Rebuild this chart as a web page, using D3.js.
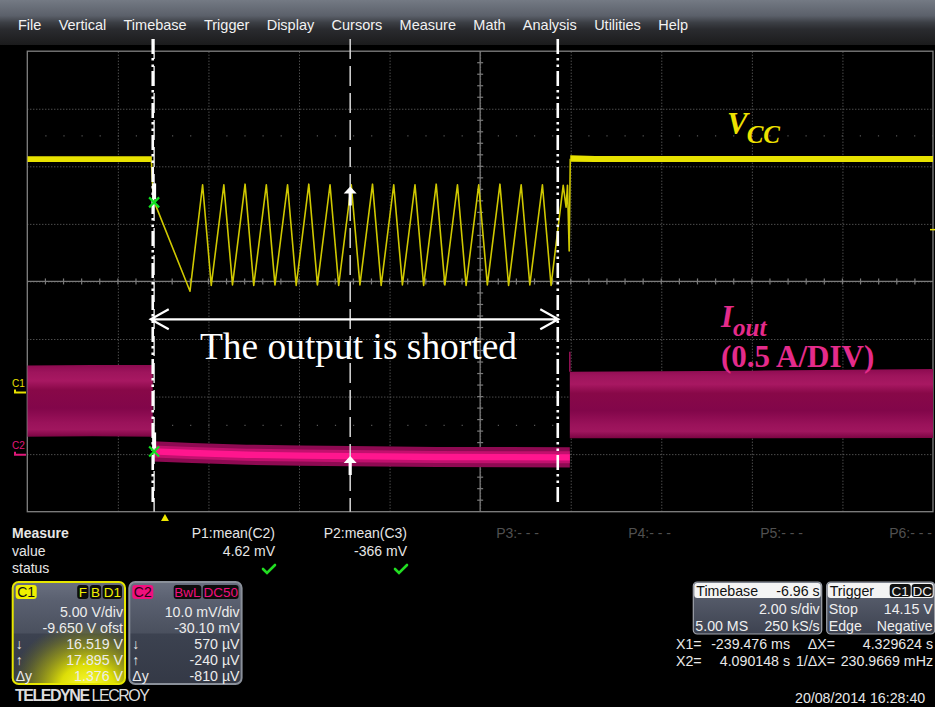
<!DOCTYPE html>
<html>
<head>
<meta charset="utf-8">
<script src="https://cdn.jsdelivr.net/npm/d3@7"></script>
<style>
html, body { margin: 0; padding: 0; background: #000; }
svg { display: block; }
</style>
</head>
<body>
<svg id="scope" width="935" height="707" font-family="'Liberation Sans', Arial, sans-serif"></svg>
<script>
// ---- menu ----
const menuItems = ["File", "Vertical", "Timebase", "Trigger", "Display", "Cursors",
                   "Measure", "Math", "Analysis", "Utilities", "Help"];

// ---- acquisition settings ----
const horizontalDelay = -6.96;   // s (screen centre sits at +6.96 s)
const timePerDiv = 2.0;          // s/div
const sampleInfo = ["5.00 MS", "250 kS/s"];
const c1PerDiv = 5.0;            // V/div
const c1Offset = -9.65;          // V
const c2PerDiv = 10.0;           // mV/div
const c2Offset = -30.10;         // mV
const triggerLevel = 14.15;      // V
const triggerInfo = ["Stop", "Edge", "Negative"];

// ---- cursors ----
const cursorTimes = [-0.239476, 4.090148];   // s
const cursorC1 = [16.519, 17.895];           // V
const cursorC2 = [0.570, -0.240];            // mV

// ---- short-circuit window (annotation) ----
const shortWindow = [-0.27, 8.674];          // s

// ---- C1 : Vcc ----
const vccPreT  = [-3.04, -0.29];
const vccPreLo = [20.02, 20.02];
const vccPreHi = [20.52, 20.52];
const vccPostT  = [8.95, 9.5, 16.96];
const vccPostLo = [20.05, 20.03, 20.03];
const vccPostHi = [20.62, 20.55, 20.55];
const vccRampT = [-0.30, -0.28, -0.26, 0.553,
  0.831, 1.022, 1.300, 1.491, 1.769, 1.960, 2.238, 2.429, 2.707, 2.898, 3.176, 3.367,
  3.645, 3.836, 4.114, 4.305, 4.583, 4.774, 5.052, 5.243, 5.521, 5.712, 5.990, 6.181,
  6.459, 6.650, 6.928, 7.119, 7.397, 7.588, 7.866, 8.057, 8.335, 8.526,
  8.794, 8.858, 8.888, 8.926, 8.95];
const vccRampV = [20.2, 18.6, 16.8, 8.8,
  18.05, 9.3, 18.05, 9.35, 18.1, 9.3, 18.05, 9.35, 18.05, 9.3, 18.1, 9.35,
  18.05, 9.3, 18.05, 9.35, 18.1, 9.3, 18.05, 9.35, 18.05, 9.3, 18.1, 9.35,
  18.05, 9.3, 18.05, 9.35, 18.1, 9.3, 18.05, 9.35, 18.05, 9.3,
  18.0, 16.1, 18.0, 12.3, 20.3];

// ---- C2 : Iout (mV at probe output) ----
const ioPreT  = [-3.04, -1.6, -0.27];
const ioPreHi = [15.5, 15.6, 15.6];
const ioPreLo = [3.1, 3.2, 3.1];
const ioShortT    = [-0.27, 0.6, 1.8, 3.0, 4.09, 6.0, 8.94];
const ioShortMean = [0.57, 0.3, 0.0, -0.15, -0.24, -0.4, -0.45];
const ioPostT  = [8.94, 13.0, 16.96];
const ioPostHi = [14.4, 14.6, 14.9];
const ioPostLo = [2.85, 2.85, 2.9];

// ---- measurement table ----
const measLabels = ["P1:mean(C2)", "P2:mean(C3)", "P3:- - -", "P4:- - -", "P5:- - -", "P6:- - -"];
const measValues = ["4.62 mV", "-366 mV", "", "", "", ""];
const measOk     = [true, true, false, false, false, false];

const dateStamp = "20/08/2014 16:28:40";

const SERIF = "'Liberation Serif', 'Times New Roman', serif";

// =====================================================================
const svg = d3.select("#scope");
const defs = svg.append("defs");

function gradient(id, stops, x2 = 0, y2 = 1) {
  const g = defs.append("linearGradient").attr("id", id)
    .attr("x1", 0).attr("y1", 0).attr("x2", x2).attr("y2", y2);
  stops.forEach(([o, c, a]) => g.append("stop").attr("offset", o)
    .attr("stop-color", c).attr("stop-opacity", a == null ? 1 : a));
}

gradient("menuGrad", [[0, "#747a84"], [0.35, "#5b606a"], [0.5, "#3c3f45"], [0.65, "#2a2b2f"], [1, "#1b1b1c"]]);
gradient("boxGrad", [[0, "#6a7080"], [0.18, "#5a6070"], [0.5, "#4a505e"], [0.51, "#3c4250"], [1, "#343946"]]);
gradient("tbGrad", [[0, "#5f6574"], [1, "#3d4250"]]);
gradient("ioBand", [[0, "#8c0a50"], [0.1, "#9e145c"], [0.22, "#a81862"], [0.35, "#880848"],
                    [0.6, "#82064a"], [0.8, "#9a125a"], [0.9, "#a0165e"], [1, "#7a0442"]]);

const glow = defs.append("radialGradient").attr("id", "c1Glow")
  .attr("cx", 0.5).attr("cy", 0.5).attr("r", 0.5);
[[0, "#ffff40", 1], [0.35, "#f0f000", 0.9], [0.7, "#b8b800", 0.45], [1, "#808000", 0]]
  .forEach(([o, c, a]) => glow.append("stop").attr("offset", o).attr("stop-color", c).attr("stop-opacity", a));

// ---- menu bar ----
svg.append("rect").attr("width", 935).attr("height", 45).attr("fill", "url(#menuGrad)");
let mx = 18;
menuItems.forEach(m => {
  const t = svg.append("text").attr("x", mx).attr("y", 30)
    .attr("font-size", 14.5).attr("fill", "#f2f2f2").text(m);
  mx += t.node().getComputedTextLength() + 17.3;
});

// ---- scales ----
const P = { x0: 27.3, x1: 933, y0: 51.2, y1: 511.7 };
const tCentre = -horizontalDelay;
const x = d3.scaleLinear()
  .domain([tCentre - 5 * timePerDiv, tCentre + 5 * timePerDiv]).range([P.x0, P.x1]);
const yC1 = d3.scaleLinear()
  .domain([-c1Offset - 4 * c1PerDiv, -c1Offset + 4 * c1PerDiv]).range([P.y1, P.y0]);
const yC2 = d3.scaleLinear()
  .domain([-c2Offset - 4 * c2PerDiv, -c2Offset + 4 * c2PerDiv]).range([P.y1, P.y0]);

const xMid = x(tCentre), yMid = yC1(-c1Offset);

defs.append("clipPath").attr("id", "plotClip").append("rect")
  .attr("x", P.x0).attr("y", P.y0).attr("width", P.x1 - P.x0).attr("height", P.y1 - P.y0);

// ---- graticule ----
const grid = svg.append("g");
const divTimes = d3.range(1, 10).map(i => x.domain()[0] + i * timePerDiv);
const divVolts = d3.range(1, 8).map(i => yC1.domain()[0] + i * c1PerDiv);

grid.append("g").attr("transform", `translate(0,${P.y1})`)
  .call(d3.axisBottom(x).tickValues(divTimes).tickSize(-(P.y1 - P.y0)).tickFormat(""))
  .call(g => g.select(".domain").remove())
  .call(g => g.selectAll("line").attr("stroke", "#6e6e6e").attr("stroke-dasharray", "1,2"));
grid.append("g").attr("transform", `translate(${P.x0},0)`)
  .call(d3.axisLeft(yC1).tickValues(divVolts).tickSize(-(P.x1 - P.x0)).tickFormat(""))
  .call(g => g.select(".domain").remove())
  .call(g => g.selectAll("line").attr("stroke", "#6e6e6e").attr("stroke-dasharray", "1,2"));

// faint dot rows
[-c1Offset + 2.53 * c1PerDiv, -c1Offset - 2.5 * c1PerDiv].forEach(v => {
  grid.append("line").attr("x1", P.x0 + 18).attr("x2", P.x1)
    .attr("y1", yC1(v)).attr("y2", yC1(v))
    .attr("stroke", "#555").attr("stroke-width", 1.2).attr("stroke-dasharray", "1.2,16.9");
});

// centre cross with minor ticks
grid.append("line").attr("x1", P.x0).attr("x2", P.x1).attr("y1", yMid).attr("y2", yMid)
  .attr("stroke", "#7a7a7a").attr("stroke-width", 1.3);
grid.append("line").attr("x1", xMid).attr("x2", xMid).attr("y1", P.y0).attr("y2", P.y1)
  .attr("stroke", "#7a7a7a").attr("stroke-width", 1.3);
const minorT = d3.range(1, 50).map(i => x.domain()[0] + i * timePerDiv / 5);
grid.selectAll(".mt").data(minorT).join("line")
  .attr("x1", d => x(d)).attr("x2", d => x(d)).attr("y1", yMid - 3).attr("y2", yMid + 3)
  .attr("stroke", "#7a7a7a").attr("stroke-width", 1.2);
const minorV = d3.range(1, 40).map(i => yC1.domain()[0] + i * c1PerDiv / 5);
grid.selectAll(".mv").data(minorV).join("line")
  .attr("x1", xMid - 3).attr("x2", xMid + 3).attr("y1", d => yC1(d)).attr("y2", d => yC1(d))
  .attr("stroke", "#7a7a7a").attr("stroke-width", 1.2);

grid.append("rect").attr("x", P.x0).attr("y", P.y0)
  .attr("width", P.x1 - P.x0).attr("height", P.y1 - P.y0)
  .attr("fill", "none").attr("stroke", "#808080").attr("stroke-width", 1.3);

// ---- traces ----
const traces = svg.append("g").attr("clip-path", "url(#plotClip)");

const bandC1 = d3.area().x(d => x(d[0])).y0(d => yC1(d[1])).y1(d => yC1(d[2]));
const bandC2 = d3.area().x(d => x(d[0])).y0(d => yC2(d[1])).y1(d => yC2(d[2]));

// Iout before and after the short
traces.append("path").attr("d", bandC2(d3.zip(ioPreT, ioPreLo, ioPreHi))).attr("fill", "url(#ioBand)");
traces.append("path").attr("d", bandC2(d3.zip(ioPostT, ioPostLo, ioPostHi))).attr("fill", "url(#ioBand)");
// small spike at the restart
traces.append("line").attr("x1", x(ioPostT[0])).attr("x2", x(ioPostT[0]))
  .attr("y1", yC2(ioPostHi[0])).attr("y2", yC2(ioPostHi[0] + 3.5))
  .attr("stroke", "#9a1058").attr("stroke-width", 1.5);

// Iout during the short: halo + bright core
const shortPts = d3.zip(ioShortT, ioShortMean);
[[1.75, "#8e0a52"], [1.05, "#c2106e"], [0.55, "#ff168e"]].forEach(([hw, c]) => {
  traces.append("path")
    .attr("d", bandC2(shortPts.map(([t, m]) => [t, m - hw, m + hw])))
    .attr("fill", c);
});

// Vcc plateaus
traces.append("path").attr("d", bandC1(d3.zip(vccPreT, vccPreLo, vccPreHi))).attr("fill", "#e8e200");
traces.append("path").attr("d", bandC1(d3.zip(vccPostT, vccPostLo, vccPostHi))).attr("fill", "#e8e200");
// Vcc hiccup ramp while shorted
traces.append("path")
  .attr("d", d3.line().x(d => x(d[0])).y(d => yC1(d[1]))(d3.zip(vccRampT, vccRampV)))
  .attr("fill", "none").attr("stroke", "#cfc800").attr("stroke-width", 1.6)
  .attr("stroke-linejoin", "round");

// ---- cursors ----
const cur = svg.append("g");
cursorTimes.forEach(t => {
  cur.append("line").attr("x1", x(t)).attr("x2", x(t)).attr("y1", 39).attr("y2", P.y1)
    .attr("stroke", "#d8d8d8").attr("stroke-width", 1.5).attr("stroke-dasharray", "20,7");
});

// short window markers (dash-dot)
shortWindow.forEach(t => {
  cur.append("line").attr("x1", x(t)).attr("x2", x(t)).attr("y1", 39).attr("y2", 505)
    .attr("stroke", "#ffffff").attr("stroke-width", 2.6)
    .attr("stroke-dasharray", "15,4,2.5,4,2.5,4");
});

// X1 markers: white stem + green cross
function x1Marker(cx, cy) {
  cur.append("rect").attr("x", cx - 2).attr("y", cy - 19).attr("width", 4).attr("height", 16)
    .attr("fill", "#fff");
  cur.append("path")
    .attr("d", `M${cx - 5},${cy - 5}L${cx + 5},${cy + 5}M${cx + 5},${cy - 5}L${cx - 5},${cy + 5}`)
    .attr("stroke", "#10e020").attr("stroke-width", 2.2);
}
x1Marker(x(cursorTimes[0]), yC1(cursorC1[0]));
x1Marker(x(cursorTimes[0]), yC2(cursorC2[0]));

// X2 markers: white up arrows
function upArrow(cx, tipY) {
  cur.append("path")
    .attr("d", `M${cx},${tipY}L${cx + 6.5},${tipY + 7}L${cx + 1.6},${tipY + 7}L${cx + 1.6},${tipY + 19}` +
               `L${cx - 1.6},${tipY + 19}L${cx - 1.6},${tipY + 7}L${cx - 6.5},${tipY + 7}Z`)
    .attr("fill", "#fff");
}
upArrow(x(cursorTimes[1]), yC1(cursorC1[1]));
upArrow(x(cursorTimes[1]), yC2(cursorC2[1]));

// trigger position and level
svg.append("path")
  .attr("d", `M${x(0)},514L${x(0) + 4},521L${x(0) - 4},521Z`).attr("fill", "#f0e800");
svg.append("line").attr("x1", P.x1 - 3).attr("x2", P.x1 + 2)
  .attr("y1", yC1(triggerLevel)).attr("y2", yC1(triggerLevel))
  .attr("stroke", "#e8e000").attr("stroke-width", 1.5);

// channel ground markers
function groundMark(label, yy, col) {
  svg.append("text").attr("x", 12).attr("y", yy - 6).attr("font-size", 10).attr("fill", col).text(label);
  svg.append("path").attr("d", `M15,${yy - 3}V${yy}H26`).attr("fill", "none")
    .attr("stroke", col).attr("stroke-width", 2);
}
groundMark("C1", yC1(0), "#e8e000");
groundMark("C2", yC2(0), "#e0187a");

// ---- annotations ----
const ann = svg.append("g");
const ay = 319.3, ax0 = x(shortWindow[0]) - 2, ax1 = x(shortWindow[1]) + 0.5;
ann.append("path")
  .attr("d", `M${ax0},${ay}H${ax1}M${ax0 + 18},${ay - 10}L${ax0},${ay}L${ax0 + 18},${ay + 10}` +
             `M${ax1 - 18},${ay - 10}L${ax1},${ay}L${ax1 - 18},${ay + 10}`)
  .attr("fill", "none").attr("stroke", "#fff").attr("stroke-width", 2.2);
ann.append("text").attr("x", 200).attr("y", 359)
  .attr("font-family", SERIF)
  .attr("font-size", 37).attr("fill", "#fff").attr("textLength", 317)
  .attr("lengthAdjust", "spacingAndGlyphs")
  .text("The output is shorted");

const vcc = ann.append("text").attr("x", 727).attr("y", 134)
  .attr("font-family", SERIF)
  .attr("font-weight", "bold").attr("font-style", "italic").attr("fill", "#eee200");
vcc.append("tspan").attr("font-size", 31).text("V");
vcc.append("tspan").attr("font-size", 25).attr("dy", 9).attr("dx", -1).text("CC");

const iout = ann.append("text").attr("x", 721).attr("y", 327)
  .attr("font-family", SERIF)
  .attr("font-weight", "bold").attr("font-style", "italic").attr("fill", "#e42b8b");
iout.append("tspan").attr("font-size", 31).text("I");
iout.append("tspan").attr("font-size", 25).attr("dy", 9).attr("dx", 0).text("out");
ann.append("text").attr("x", 721).attr("y", 367)
  .attr("font-family", SERIF)
  .attr("font-weight", "bold").attr("font-size", 31).attr("fill", "#e42b8b")
  .text("(0.5 A/DIV)");

// ---- measurement table ----
const mt = svg.append("g").attr("font-size", 14).attr("fill", "#e6e6e6");
mt.append("text").attr("x", 12).attr("y", 538).attr("font-weight", "bold").text("Measure");
mt.append("text").attr("x", 12).attr("y", 556).text("value");
mt.append("text").attr("x", 12).attr("y", 573).text("status");
measLabels.forEach((lab, i) => {
  const xr = 275 + i * 132;
  const active = measValues[i] !== "";
  mt.append("text").attr("x", Math.min(xr, 932)).attr("y", 538).attr("text-anchor", "end")
    .attr("fill", active ? "#e6e6e6" : "#505050").text(lab);
  if (active) {
    mt.append("text").attr("x", xr).attr("y", 556).attr("text-anchor", "end").text(measValues[i]);
  }
  if (measOk[i]) {
    mt.append("path").attr("d", `M${xr - 12},${569}L${xr - 8},${573}L${xr},${565}`)
      .attr("fill", "none").attr("stroke", "#22dd22").attr("stroke-width", 2.6)
      .attr("stroke-linecap", "round");
  }
});

// ---- channel descriptor boxes ----
function channelBox(bx, name, nameCol, nameText, badges, badgeCol, rows, border, withGlow) {
  const g = svg.append("g");
  const w = 112.3, h = 102, by = 582;
  const cid = "clip" + name;
  defs.append("clipPath").attr("id", cid).append("rect")
    .attr("x", bx).attr("y", by).attr("width", w).attr("height", h).attr("rx", 6);
  g.append("rect").attr("x", bx).attr("y", by).attr("width", w).attr("height", h)
    .attr("rx", 6).attr("fill", "url(#boxGrad)");
  if (withGlow) {
    g.append("ellipse").attr("clip-path", `url(#${cid})`)
      .attr("cx", bx + 75).attr("cy", by + 106).attr("rx", 78).attr("ry", 66)
      .attr("fill", "url(#c1Glow)");
  }
  g.append("rect").attr("x", bx).attr("y", by).attr("width", w).attr("height", h)
    .attr("rx", 6).attr("fill", "none").attr("stroke", border).attr("stroke-width", 2);
  g.append("rect").attr("x", bx + 3).attr("y", by + 3).attr("width", 21).attr("height", 14)
    .attr("rx", 3).attr("fill", nameCol);
  g.append("text").attr("x", bx + 13.5).attr("y", by + 15).attr("text-anchor", "middle")
    .attr("font-size", 14).attr("fill", nameText).text(name);
  let bxr = bx + w - 3;
  badges.slice().reverse().forEach(b => {
    const tw = b.length * 8.2 + 3;
    g.append("rect").attr("x", bxr - tw).attr("y", by + 3).attr("width", tw).attr("height", 14)
      .attr("rx", 3).attr("fill", "#0c0c0c");
    g.append("text").attr("x", bxr - tw / 2).attr("y", by + 15).attr("text-anchor", "middle")
      .attr("font-size", 13.5).attr("fill", badgeCol).text(b);
    bxr -= tw + 1.5;
  });
  const sym = ["", "", "\u2193", "\u2191", "\u0394y"];
  rows.forEach((r, i) => {
    const yy = by + 35 + i * 16;
    g.append("text").attr("x", bx + w - 2).attr("y", yy).attr("text-anchor", "end")
      .attr("font-size", 14.2).attr("fill", "#ececec").text(r);
    if (sym[i]) g.append("text").attr("x", bx + 3).attr("y", yy)
      .attr("font-size", 14).attr("fill", "#ececec").text(sym[i]);
  });
}

const c1Rows = [`${c1PerDiv.toFixed(2)} V/div`, `${c1Offset.toFixed(3)} V ofst`,
  `${cursorC1[0].toFixed(3)} V`, `${cursorC1[1].toFixed(3)} V`,
  `${(cursorC1[1] - cursorC1[0]).toFixed(3)} V`];
const uv = v => `${Math.round(v * 1000)} \u00b5V`;
const c2Rows = [`${c2PerDiv.toFixed(1)} mV/div`, `${c2Offset.toFixed(2)} mV`,
  uv(cursorC2[0]), uv(cursorC2[1]), uv(cursorC2[1] - cursorC2[0])];

channelBox(12.7, "C1", "#f0f000", "#111", ["F", "B", "D1"], "#f0f000", c1Rows, "#e6e600", true);
channelBox(129.3, "C2", "#f0107e", "#2a0010", ["BwL", "DC50"], "#f0107e", c2Rows, "#8a909a", false);

svg.append("text").attr("x", 15).attr("y", 701).attr("font-size", 16).attr("fill", "#dcdcdc")
  .attr("textLength", 135)
  .call(t => { t.append("tspan").attr("font-weight", "bold").text("TELEDYNE ");
               t.append("tspan").text("LECROY"); });

// ---- timebase / trigger boxes ----
function infoBox(bx, w, title, titleRight, rows, badges) {
  const g = svg.append("g");
  const by = 582, h = 52;
  g.append("rect").attr("x", bx).attr("y", by).attr("width", w).attr("height", h).attr("rx", 4)
    .attr("fill", "url(#tbGrad)").attr("stroke", "#a0a4ac").attr("stroke-width", 1.2);
  g.append("rect").attr("x", bx + 1).attr("y", by + 1).attr("width", w - 2).attr("height", 15)
    .attr("rx", 3).attr("fill", "#f4f4f4");
  g.append("text").attr("x", bx + 3).attr("y", by + 14).attr("font-size", 14.2)
    .attr("fill", "#111").text(title);
  if (titleRight) g.append("text").attr("x", bx + w - 2).attr("y", by + 14)
    .attr("text-anchor", "end").attr("font-size", 14.2).attr("fill", "#111").text(titleRight);
  let bxr = bx + w - 2;
  (badges || []).slice().reverse().forEach(b => {
    const tw = b.length * 9 + 3;
    g.append("rect").attr("x", bxr - tw).attr("y", by + 2).attr("width", tw).attr("height", 13)
      .attr("rx", 3).attr("fill", "#111");
    g.append("text").attr("x", bxr - tw / 2).attr("y", by + 14).attr("text-anchor", "middle")
      .attr("font-size", 13.5).attr("fill", "#f0f0f0").text(b);
    bxr -= tw + 1;
  });
  rows.forEach(([l, r], i) => {
    const yy = by + 32 + i * 17;
    if (l) g.append("text").attr("x", bx + 2).attr("y", yy).attr("font-size", 14.2)
      .attr("fill", "#efefef").text(l);
    if (r) g.append("text").attr("x", bx + w - 2).attr("y", yy).attr("text-anchor", "end")
      .attr("font-size", 14.2).attr("fill", "#efefef").text(r);
  });
}
infoBox(693.3, 128.4, "Timebase", `${horizontalDelay.toFixed(2)} s`,
  [["", `${timePerDiv.toFixed(2)} s/div`], sampleInfo]);
infoBox(826.7, 108, "Trigger", null,
  [[triggerInfo[0], `${triggerLevel.toFixed(2)} V`], [triggerInfo[1], triggerInfo[2]]], ["C1", "DC"]);

// ---- cursor readouts ----
const dX = cursorTimes[1] - cursorTimes[0];
const rd = svg.append("g").attr("font-size", 14.2).attr("fill", "#e8e8e8");
rd.append("text").attr("x", 676).attr("y", 649).text("X1=");
rd.append("text").attr("x", 790).attr("y", 649).attr("text-anchor", "end")
  .text(`${(cursorTimes[0] * 1000).toFixed(3)} ms`);
rd.append("text").attr("x", 835).attr("y", 649).attr("text-anchor", "end").text("\u0394X=");
rd.append("text").attr("x", 933).attr("y", 649).attr("text-anchor", "end").text(`${dX.toFixed(6)} s`);
rd.append("text").attr("x", 676).attr("y", 666).text("X2=");
rd.append("text").attr("x", 790).attr("y", 666).attr("text-anchor", "end")
  .text(`${cursorTimes[1].toFixed(6)} s`);
rd.append("text").attr("x", 835).attr("y", 666).attr("text-anchor", "end").text("1/\u0394X=");
rd.append("text").attr("x", 933).attr("y", 666).attr("text-anchor", "end")
  .text(`${(1000 / dX).toFixed(4)} mHz`);
rd.append("text").attr("x", 795).attr("y", 703).text(dateStamp);
</script>
</body>
</html>
